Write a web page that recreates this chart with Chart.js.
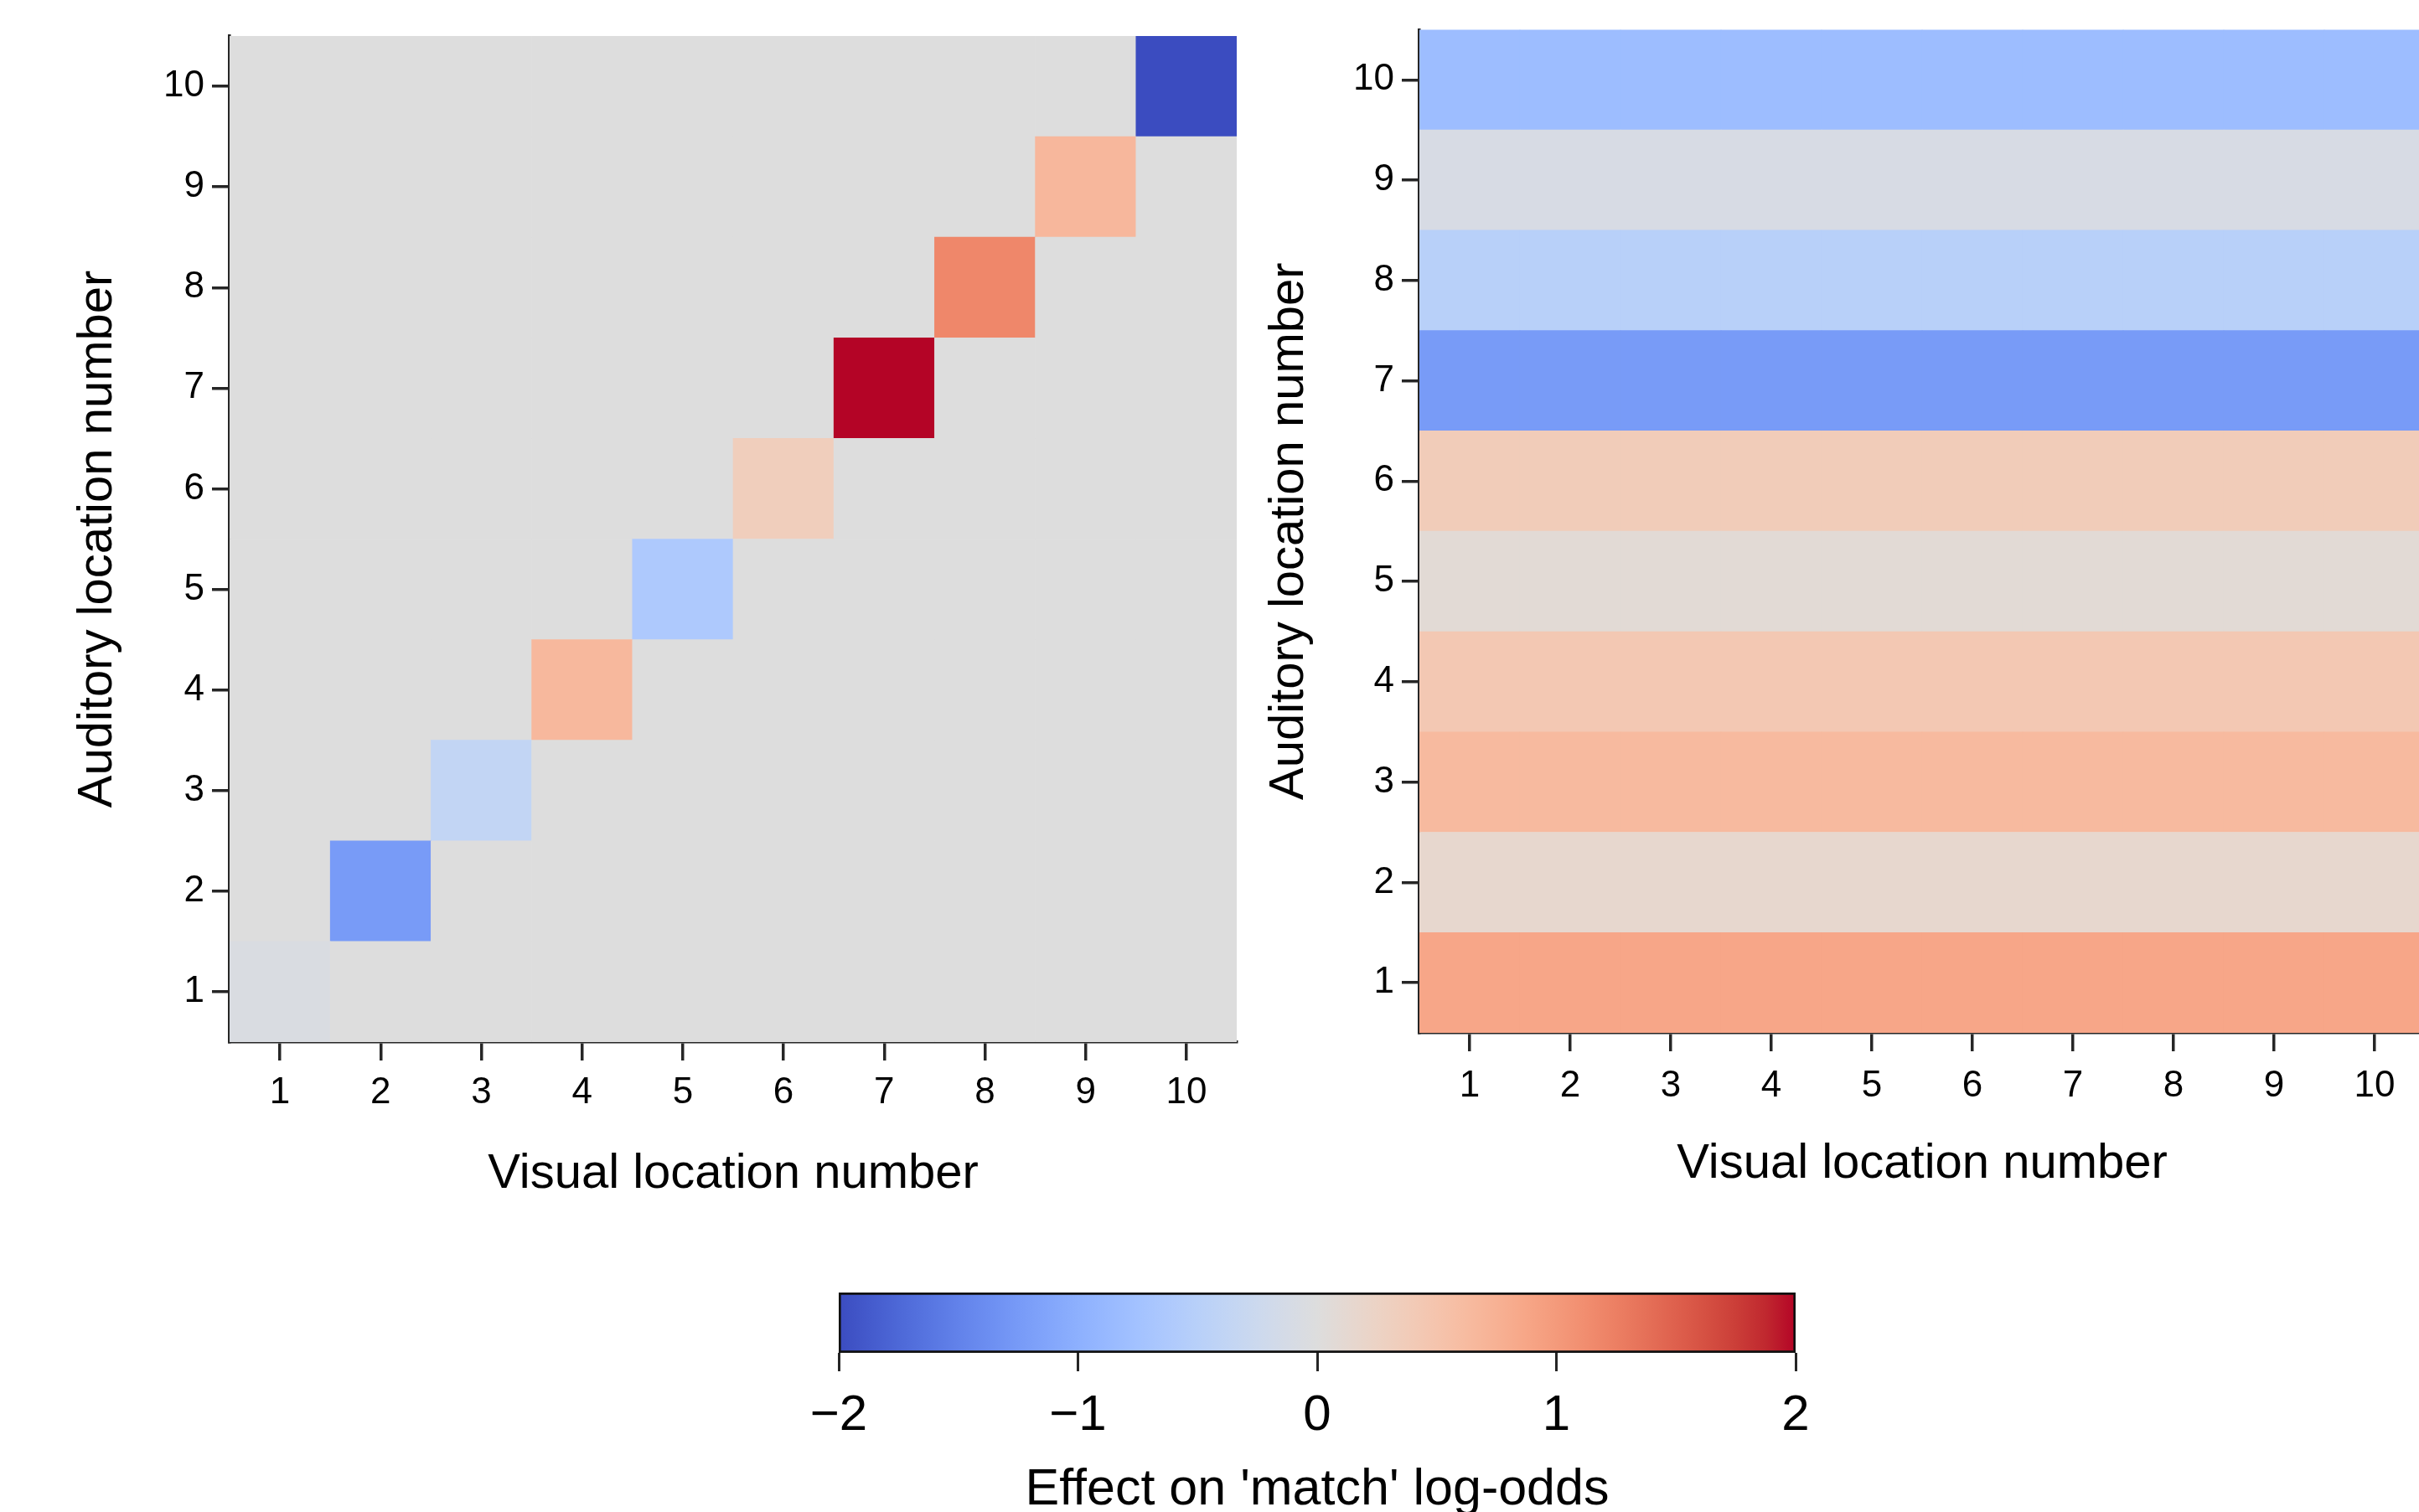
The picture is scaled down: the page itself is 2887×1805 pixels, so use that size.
<!DOCTYPE html>
<html>
<head>
<meta charset="utf-8">
<script src="https://cdn.jsdelivr.net/npm/chart.js@4.4.0/dist/chart.umd.min.js"></script>
<style>
  html, body { margin: 0; padding: 0; background: #fff; overflow: hidden; }
  body { width: 2887px; height: 1805px; position: relative; }
  canvas { position: absolute; }
</style>
</head>
<body>
<canvas id="left" width="1500" height="1450" style="left:0;top:0"></canvas>
<canvas id="right" width="1440" height="1450" style="left:1460px;top:0"></canvas>
<canvas id="bar" width="1340" height="336" style="left:900px;top:1480px"></canvas>
<script>
// data
const visualLabels = ['1', '2', '3', '4', '5', '6', '7', '8', '9', '10'];
const auditoryTicks = [1, 2, 3, 4, 5, 6, 7, 8, 9, 10];
// left panel: effect only where visual == auditory, 0 elsewhere
const diagonalEffect = [-0.06, -1.24, -0.38, 0.66, -0.62, 0.34, 2.0, 1.18, 0.67, -2.0];
// right panel: one effect per auditory location (same for every visual location)
const auditoryEffect = [0.87, 0.16, 0.64, 0.44, 0.08, 0.38, -1.24, -0.5, -0.1, -0.82];
const colorbarTicks = [-2, -1, 0, 1, 2];

const FONT = "'Liberation Sans', Arial, sans-serif";
const AXIS = '#262626';

// matplotlib coolwarm
const COOLWARM = [
  [59,76,192],[68,90,204],[77,104,215],[87,117,225],[98,130,234],[108,142,241],
  [119,154,247],[130,165,251],[141,176,254],[152,185,255],[163,194,255],[174,201,253],
  [184,208,249],[194,213,244],[204,217,238],[213,219,230],[221,221,221],[229,216,209],
  [236,211,197],[241,204,185],[245,196,173],[247,187,160],[247,177,148],[247,166,135],
  [244,154,123],[241,141,111],[236,127,99],[229,112,88],[222,96,77],[213,80,66],
  [203,62,56],[192,40,47],[180,4,38]
];

function coolwarm(v) {
  let t = (v + 2) / 4;
  t = Math.max(0, Math.min(1, t)) * (COOLWARM.length - 1);
  const i = Math.min(Math.floor(t), COOLWARM.length - 2);
  const f = t - i;
  const a = COOLWARM[i], b = COOLWARM[i + 1];
  const c = a.map((x, k) => Math.round(x + (b[k] - x) * f));
  return 'rgb(' + c.join(',') + ')';
}

function heatDatasets(matrix) {
  return auditoryTicks.map((a, r) => ({
    data: visualLabels.map(() => [a - 0.5, a + 0.5]),
    backgroundColor: matrix[r].map(coolwarm),
    borderWidth: 0,
    grouped: false,
    barPercentage: 1,
    categoryPercentage: 1
  }));
}

function heatOptions(o) {
  return {
    responsive: false,
    animation: false,
    layout: { padding: o.padding },
    plugins: { legend: { display: false }, tooltip: { enabled: false } },
    scales: {
      x: {
        type: 'category',
        offset: true,
        z: 1,
        grid: { offset: false, drawOnChartArea: false, tickLength: 22, lineWidth: 3.5, color: AXIS },
        border: { display: true, color: AXIS, width: 3.5 },
        ticks: { color: '#000', font: { family: FONT, size: 44 }, padding: o.xTickPad, maxRotation: 0, autoSkip: false },
        title: { display: true, text: 'Visual location number', color: '#000',
                 font: { family: FONT, size: 58 }, padding: { top: 0, bottom: o.xTitlePad } },
        afterFit: s => { s.height = o.xHeight; }
      },
      y: {
        type: 'linear',
        min: 0.5,
        max: 10.5,
        z: 1,
        afterBuildTicks: s => { s.ticks = auditoryTicks.map(v => ({ value: v })); },
        grid: { drawOnChartArea: false, tickLength: 21, lineWidth: 3.5, color: AXIS },
        border: { display: true, color: AXIS, width: 3.5 },
        ticks: { color: '#000', font: { family: FONT, size: 44 }, padding: 9 },
        title: { display: true, text: 'Auditory location number', color: '#000',
                 font: { family: FONT, size: 58 }, padding: { top: o.yTitlePad, bottom: 0 } },
        afterFit: s => { s.width = o.yWidth; }
      }
    }
  };
}

const leftMatrix = auditoryTicks.map((a, r) => visualLabels.map((v, c) => r === c ? diagonalEffect[r] : 0));
const rightMatrix = auditoryTicks.map((a, r) => visualLabels.map(() => auditoryEffect[r]));

new Chart(document.getElementById('left'), {
  type: 'bar',
  data: { labels: visualLabels, datasets: heatDatasets(leftMatrix) },
  options: heatOptions({ padding: { left: 0, top: 43, right: 24, bottom: 0 },
                         yWidth: 274, xHeight: 206, xTickPad: 12, xTitlePad: 13, yTitlePad: 82 })
});

new Chart(document.getElementById('right'), {
  type: 'bar',
  data: { labels: visualLabels, datasets: heatDatasets(rightMatrix) },
  options: heatOptions({ padding: { left: 0, top: 32, right: 6, bottom: 0 },
                         yWidth: 234, xHeight: 217, xTickPad: 15, xTitlePad: 25, yTitlePad: 44 })
});

// colour bar
function barGradient(chart) {
  const a = chart.chartArea;
  if (!a) return null;
  const g = chart.ctx.createLinearGradient(a.left, 0, a.right, 0);
  COOLWARM.forEach((c, i) => g.addColorStop(i / (COOLWARM.length - 1), 'rgb(' + c.join(',') + ')'));
  return g;
}

new Chart(document.getElementById('bar'), {
  type: 'bar',
  data: {
    labels: [''],
    datasets: [{
      data: [[colorbarTicks[0], colorbarTicks[colorbarTicks.length - 1]]],
      backgroundColor: ctx => barGradient(ctx.chart),
      borderColor: '#111',
      borderWidth: 3,
      borderSkipped: false,
      barPercentage: 1,
      categoryPercentage: 1
    }]
  },
  options: {
    indexAxis: 'y',
    responsive: false,
    animation: false,
    layout: { padding: { left: 101, right: 97, top: 63, bottom: 0 } },
    plugins: { legend: { display: false }, tooltip: { enabled: false } },
    scales: {
      y: { display: false },
      x: {
        type: 'linear',
        min: -2,
        max: 2,
        afterBuildTicks: s => { s.ticks = colorbarTicks.map(v => ({ value: v })); },
        grid: { drawOnChartArea: false, tickLength: 22, lineWidth: 3, color: AXIS },
        border: { display: false },
        ticks: { color: '#000', font: { family: FONT, size: 60 }, padding: 17,
                 callback: v => v < 0 ? '\u2212' + Math.abs(v) : String(v) },
        title: { display: true, text: "Effect on 'match' log-odds", color: '#000',
                 font: { family: FONT, size: 61 }, padding: { top: 0, bottom: 0 } },
        afterFit: s => { s.height = 201; }
      }
    }
  }
});
</script>
</body>
</html>
